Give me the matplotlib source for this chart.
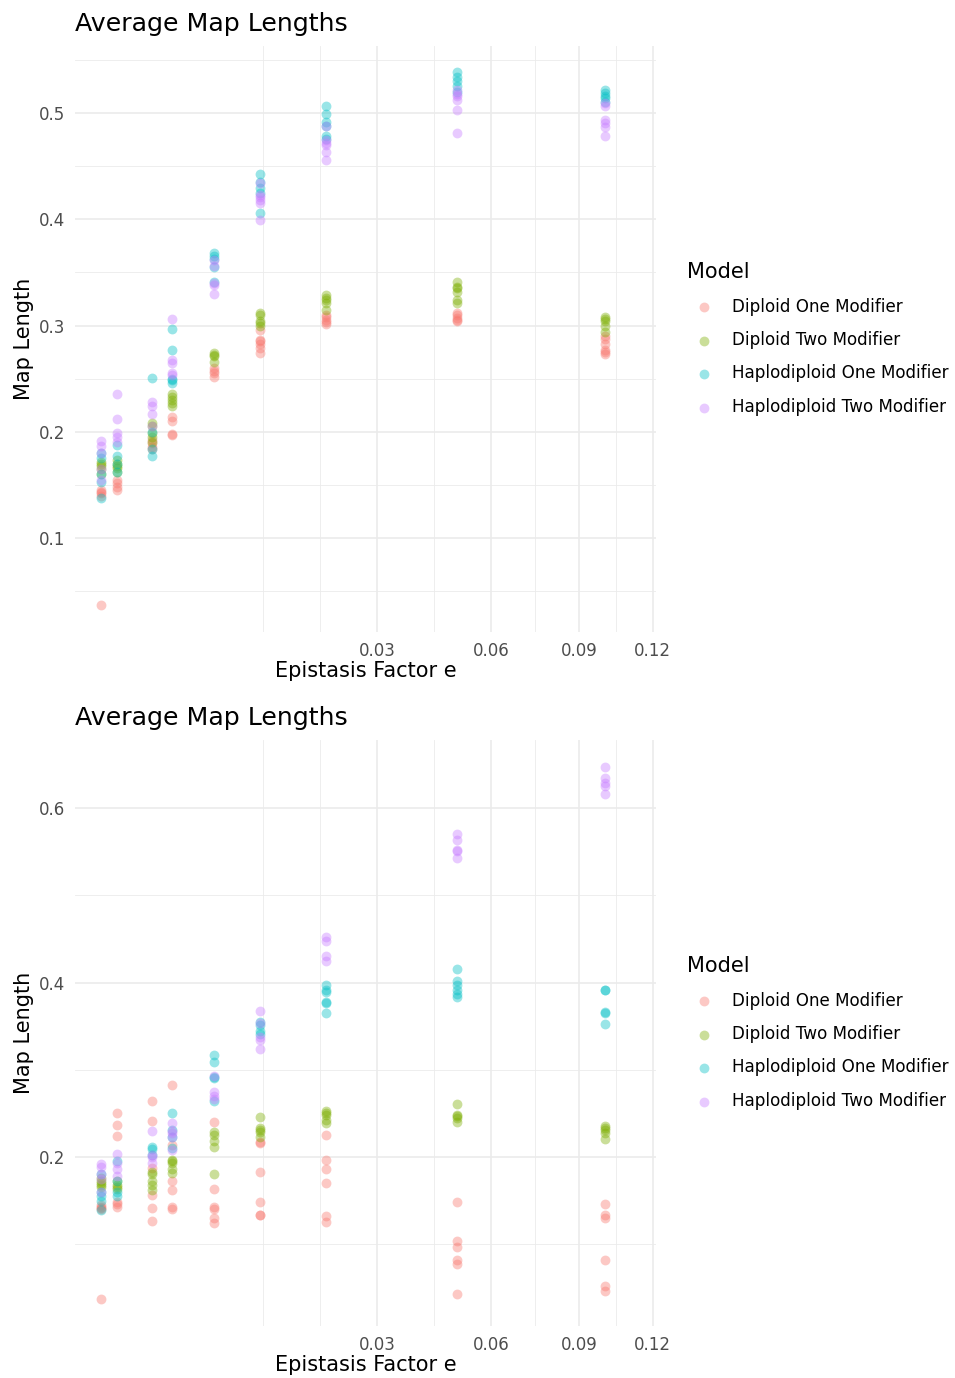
import numpy as np
import matplotlib
matplotlib.use("Agg")
import matplotlib.pyplot as plt
from matplotlib.ticker import FixedLocator, NullFormatter

# ---------------- data ----------------
epistasis = [0, 0.0001, 0.001, 0.002, 0.005, 0.01, 0.02, 0.05, 0.1]
models = ["Diploid One Modifier", "Diploid Two Modifier",
          "Haplodiploid One Modifier", "Haplodiploid Two Modifier"]
colors = ["#F8766D", "#7CAE00", "#00BFC4", "#C77CFF"]
x_breaks = [0.03, 0.06, 0.09, 0.12]
x_labels = ["0.03", "0.06", "0.09", "0.12"]
top_y_breaks = [0.1, 0.2, 0.3, 0.4, 0.5]
bottom_y_breaks = [0.2, 0.4, 0.6]

# top panel: one list of replicate values per epistasis value
top_d1 = [[0.145, 0.142, 0.140, 0.143, 0.037],
          [0.155, 0.152, 0.145, 0.148],
          [0.192, 0.189, 0.184, 0.186],
          [0.214, 0.210, 0.197, 0.198],
          [0.260, 0.255, 0.252, 0.257],
          [0.296, 0.286, 0.283, 0.279, 0.274, 0.285],
          [0.308, 0.305, 0.301, 0.310, 0.303],
          [0.312, 0.307, 0.304, 0.305, 0.310],
          [0.290, 0.283, 0.277, 0.273, 0.287, 0.275]]
top_d2 = [[0.170, 0.168, 0.165, 0.160, 0.172],
          [0.173, 0.170, 0.166, 0.162, 0.168],
          [0.208, 0.205, 0.199, 0.195, 0.190],
          [0.236, 0.233, 0.227, 0.224, 0.230],
          [0.274, 0.271, 0.266, 0.272],
          [0.312, 0.310, 0.302, 0.304, 0.300],
          [0.329, 0.326, 0.321, 0.315, 0.324],
          [0.341, 0.335, 0.332, 0.324, 0.321, 0.336],
          [0.308, 0.304, 0.300, 0.294, 0.306]]
top_h1 = [[0.180, 0.175, 0.153, 0.138, 0.160],
          [0.188, 0.177, 0.162, 0.170],
          [0.251, 0.184, 0.177, 0.200],
          [0.297, 0.277, 0.249, 0.246, 0.250],
          [0.368, 0.365, 0.355, 0.341, 0.363],
          [0.443, 0.429, 0.406, 0.435, 0.425],
          [0.507, 0.499, 0.492, 0.488, 0.478, 0.476],
          [0.539, 0.534, 0.530, 0.525, 0.520],
          [0.522, 0.519, 0.516, 0.514, 0.510]]
top_h2 = [[0.191, 0.187, 0.180, 0.155, 0.165],
          [0.236, 0.212, 0.199, 0.195, 0.190],
          [0.228, 0.224, 0.217, 0.205],
          [0.306, 0.268, 0.265, 0.255, 0.253],
          [0.362, 0.356, 0.338, 0.330, 0.340],
          [0.434, 0.423, 0.421, 0.415, 0.399, 0.418],
          [0.488, 0.475, 0.472, 0.463, 0.456, 0.470],
          [0.522, 0.518, 0.512, 0.503, 0.481, 0.516],
          [0.509, 0.507, 0.493, 0.491, 0.487, 0.478]]

# bottom panel
bottom_d1 = [[0.145, 0.141, 0.143, 0.140, 0.037],
             [0.250, 0.237, 0.224, 0.149, 0.143, 0.146],
             [0.264, 0.241, 0.187, 0.157, 0.142, 0.127],
             [0.283, 0.214, 0.172, 0.162, 0.143, 0.140],
             [0.240, 0.163, 0.143, 0.140, 0.130, 0.124],
             [0.216, 0.183, 0.149, 0.134, 0.133, 0.217],
             [0.225, 0.197, 0.186, 0.170, 0.132, 0.126],
             [0.149, 0.104, 0.097, 0.082, 0.077, 0.043],
             [0.146, 0.133, 0.130, 0.082, 0.052, 0.046]]
bottom_d2 = [[0.176, 0.170, 0.166, 0.168, 0.172],
             [0.172, 0.166, 0.163, 0.168],
             [0.183, 0.181, 0.172, 0.168, 0.162],
             [0.197, 0.193, 0.186, 0.182, 0.195],
             [0.229, 0.225, 0.218, 0.212, 0.181],
             [0.246, 0.233, 0.229, 0.223, 0.231],
             [0.253, 0.248, 0.242, 0.239, 0.251],
             [0.261, 0.248, 0.245, 0.240, 0.247],
             [0.235, 0.231, 0.227, 0.221, 0.233]]
bottom_h1 = [[0.181, 0.160, 0.155, 0.139, 0.150],
             [0.195, 0.155, 0.160, 0.172],
             [0.212, 0.209, 0.202],
             [0.251, 0.231, 0.223, 0.210],
             [0.317, 0.309, 0.290, 0.264, 0.292],
             [0.355, 0.345, 0.341, 0.351],
             [0.397, 0.391, 0.389, 0.378, 0.365, 0.377],
             [0.415, 0.402, 0.397, 0.392, 0.387, 0.383],
             [0.392, 0.365, 0.366, 0.353, 0.392]]
bottom_h2 = [[0.192, 0.189, 0.181, 0.160, 0.175],
             [0.204, 0.193, 0.186, 0.178],
             [0.230, 0.200, 0.193, 0.202],
             [0.239, 0.227, 0.223, 0.208, 0.230],
             [0.293, 0.275, 0.267, 0.270],
             [0.367, 0.337, 0.334, 0.324, 0.354],
             [0.452, 0.448, 0.430, 0.425],
             [0.570, 0.563, 0.551, 0.543, 0.552],
             [0.647, 0.635, 0.629, 0.625, 0.616]]

top_series = [top_d1, top_d2, top_h1, top_h2]
bottom_series = [bottom_d1, bottom_d2, bottom_h1, bottom_h2]

# ---------------- figure ----------------
W, H = 955, 1378
fig = plt.figure(figsize=(W / 100, H / 100), dpi=100)
plt.rcParams["font.family"] = ["DejaVu Sans"]


def fwd(x):
    x = np.asarray(x, dtype=float)
    return np.sign(x) * np.sqrt(np.abs(x))


def inv(y):
    y = np.asarray(y, dtype=float)
    return np.sign(y) * y ** 2


def minor_breaks(breaks, lo, hi):
    b = list(fwd(breaks))
    d = np.diff(b)
    if lo < b[0]:
        b = [b[0] - d[0]] + b
    if hi > b[-1]:
        b = b + [b[-1] + d[-1]]
    out = []
    for a, c in zip(b[:-1], b[1:]):
        out += [a, (a + c) / 2]
    out.append(b[-1])
    out = [v for v in out if lo <= v <= hi and not np.any(np.isclose(v, fwd(breaks)))]
    return list(inv(out))


def y_minor(breaks, lo, hi):
    step = breaks[1] - breaks[0]
    vals = np.arange(breaks[0] - step / 2, breaks[-1] + step, step / 2)
    return [v for v in vals if lo <= v <= hi and not np.any(np.isclose(v, breaks))]


XLO_T, XHI_T = -0.01652, 0.34847


def make_panel(top_px, bottom_px, series, ybreaks, ylim):
    ax = fig.add_axes([75 / W, 1 - bottom_px / H, 581 / W, (bottom_px - top_px) / H])
    ax.set_xscale("function", functions=(fwd, inv))
    ax.set_xlim(inv(XLO_T), inv(XHI_T))
    ax.set_ylim(*ylim)
    for vals_list, col, name in zip(series, colors, models):
        xs, ys = [], []
        for e, vals in zip(epistasis, vals_list):
            xs += [e] * len(vals)
            ys += vals
        ax.scatter(xs, ys, s=50, color=col, alpha=0.4, linewidths=0,
                   label=name, zorder=3)
    ax.xaxis.set_major_locator(FixedLocator(x_breaks))
    ax.set_xticklabels(x_labels)
    ax.xaxis.set_minor_locator(FixedLocator(minor_breaks(x_breaks, XLO_T, XHI_T)))
    ax.xaxis.set_minor_formatter(NullFormatter())
    ax.yaxis.set_major_locator(FixedLocator(ybreaks))
    ax.set_yticklabels([f"{v:g}" for v in ybreaks])
    ax.yaxis.set_minor_locator(FixedLocator(y_minor(ybreaks, *ylim)))
    ax.yaxis.set_minor_formatter(NullFormatter())
    ax.grid(which="major", color="#EBEBEB", linewidth=1.2, zorder=0)
    ax.grid(which="minor", color="#EBEBEB", linewidth=0.6, zorder=0)
    ax.set_axisbelow(True)
    for s in ax.spines.values():
        s.set_visible(False)
    ax.tick_params(which="both", length=0)
    ax.tick_params(axis="x", pad=7.5, labelsize=12, labelcolor="#4D4D4D")
    ax.tick_params(axis="y", pad=7.2, labelsize=12, labelcolor="#4D4D4D")
    hpx = bottom_px - top_px
    ax.set_xlabel("Epistasis Factor e", fontsize=15)
    ax.xaxis.set_label_coords(0.5, -(671 - 632) / hpx)
    ax.xaxis.label.set_va("center")
    ax.set_ylabel("Map Length", fontsize=15)
    ax.yaxis.set_label_coords((24 - 75) / 581, 0.5)
    ax.yaxis.label.set_va("center")
    ax.set_title("Average Map Lengths", loc="left", fontsize=18.2, pad=11)
    ax.legend(title="Model", loc="center left",
              bbox_to_anchor=((672.3 - 75) / 581, 0.5), frameon=False,
              fontsize=12.1, title_fontsize=15, handlelength=2.0,
              handletextpad=0.65, labelspacing=0.92, alignment="left",
              borderpad=0.4)
    return ax


make_panel(46, 632, top_series, top_y_breaks, (0.01153, 0.5631))
make_panel(740, 1326, bottom_series, bottom_y_breaks, (0.0063, 0.678))

fig.savefig("out.png", dpi=100, facecolor="white")
